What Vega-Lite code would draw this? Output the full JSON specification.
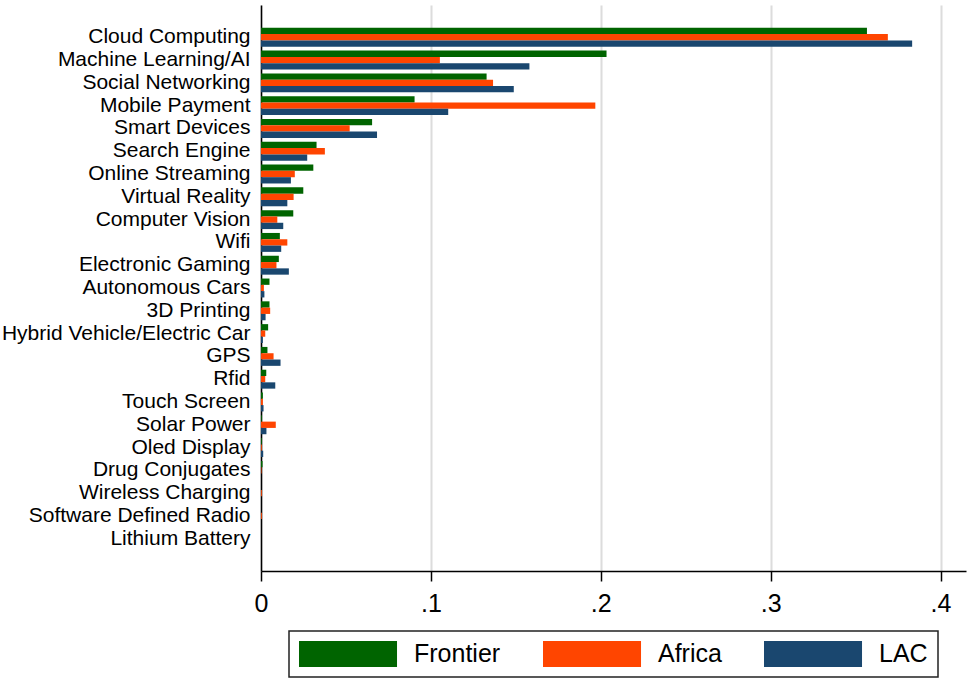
{
  "$schema": "https://vega.github.io/schema/vega-lite/v6.json",
  "width": 705,
  "height": 566,
  "autosize": {"type": "none"},
  "padding": {"left": 261, "top": 5, "right": 2, "bottom": 108},
  "background": "white",
  "config": {
    "font": "Liberation Sans",
    "view": {"stroke": null},
    "axis": {"labelColor": "black", "labelFont": "Liberation Sans"},
    "legend": {"labelFont": "Liberation Sans"}
  },
  "data": {
    "values": [
      {"tech": "Cloud Computing", "group": "Frontier", "value": 0.3567},
      {"tech": "Cloud Computing", "group": "Africa", "value": 0.369},
      {"tech": "Cloud Computing", "group": "LAC", "value": 0.3833},
      {"tech": "Machine Learning/AI", "group": "Frontier", "value": 0.2034},
      {"tech": "Machine Learning/AI", "group": "Africa", "value": 0.1053},
      {"tech": "Machine Learning/AI", "group": "LAC", "value": 0.158},
      {"tech": "Social Networking", "group": "Frontier", "value": 0.1328},
      {"tech": "Social Networking", "group": "Africa", "value": 0.1366},
      {"tech": "Social Networking", "group": "LAC", "value": 0.1488},
      {"tech": "Mobile Payment", "group": "Frontier", "value": 0.0904},
      {"tech": "Mobile Payment", "group": "Africa", "value": 0.1968},
      {"tech": "Mobile Payment", "group": "LAC", "value": 0.1102},
      {"tech": "Smart Devices", "group": "Frontier", "value": 0.0654},
      {"tech": "Smart Devices", "group": "Africa", "value": 0.0522},
      {"tech": "Smart Devices", "group": "LAC", "value": 0.0683},
      {"tech": "Search Engine", "group": "Frontier", "value": 0.0327},
      {"tech": "Search Engine", "group": "Africa", "value": 0.0376},
      {"tech": "Search Engine", "group": "LAC", "value": 0.0272},
      {"tech": "Online Streaming", "group": "Frontier", "value": 0.0308},
      {"tech": "Online Streaming", "group": "Africa", "value": 0.0199},
      {"tech": "Online Streaming", "group": "LAC", "value": 0.0176},
      {"tech": "Virtual Reality", "group": "Frontier", "value": 0.0249},
      {"tech": "Virtual Reality", "group": "Africa", "value": 0.0192},
      {"tech": "Virtual Reality", "group": "LAC", "value": 0.0155},
      {"tech": "Computer Vision", "group": "Frontier", "value": 0.019},
      {"tech": "Computer Vision", "group": "Africa", "value": 0.0096},
      {"tech": "Computer Vision", "group": "LAC", "value": 0.0131},
      {"tech": "Wifi", "group": "Frontier", "value": 0.0111},
      {"tech": "Wifi", "group": "Africa", "value": 0.0155},
      {"tech": "Wifi", "group": "LAC", "value": 0.0119},
      {"tech": "Electronic Gaming", "group": "Frontier", "value": 0.0105},
      {"tech": "Electronic Gaming", "group": "Africa", "value": 0.0091},
      {"tech": "Electronic Gaming", "group": "LAC", "value": 0.0164},
      {"tech": "Autonomous Cars", "group": "Frontier", "value": 0.005},
      {"tech": "Autonomous Cars", "group": "Africa", "value": 0.0017},
      {"tech": "Autonomous Cars", "group": "LAC", "value": 0.002},
      {"tech": "3D Printing", "group": "Frontier", "value": 0.005},
      {"tech": "3D Printing", "group": "Africa", "value": 0.0054},
      {"tech": "3D Printing", "group": "LAC", "value": 0.0027},
      {"tech": "Hybrid Vehicle/Electric Car", "group": "Frontier", "value": 0.0042},
      {"tech": "Hybrid Vehicle/Electric Car", "group": "Africa", "value": 0.0025},
      {"tech": "Hybrid Vehicle/Electric Car", "group": "LAC", "value": 0.0011},
      {"tech": "GPS", "group": "Frontier", "value": 0.0038},
      {"tech": "GPS", "group": "Africa", "value": 0.0074},
      {"tech": "GPS", "group": "LAC", "value": 0.0115},
      {"tech": "Rfid", "group": "Frontier", "value": 0.0031},
      {"tech": "Rfid", "group": "Africa", "value": 0.0025},
      {"tech": "Rfid", "group": "LAC", "value": 0.0084},
      {"tech": "Touch Screen", "group": "Frontier", "value": 0.0011},
      {"tech": "Touch Screen", "group": "Africa", "value": 0.0011},
      {"tech": "Touch Screen", "group": "LAC", "value": 0.0015},
      {"tech": "Solar Power", "group": "Frontier", "value": 0.0005},
      {"tech": "Solar Power", "group": "Africa", "value": 0.0087},
      {"tech": "Solar Power", "group": "LAC", "value": 0.0032},
      {"tech": "Oled Display", "group": "Frontier", "value": 0.0005},
      {"tech": "Oled Display", "group": "Africa", "value": 0.0005},
      {"tech": "Oled Display", "group": "LAC", "value": 0.0013},
      {"tech": "Drug Conjugates", "group": "Frontier", "value": 0.0009},
      {"tech": "Drug Conjugates", "group": "Africa", "value": 0.0003},
      {"tech": "Drug Conjugates", "group": "LAC", "value": 0},
      {"tech": "Wireless Charging", "group": "Frontier", "value": 0},
      {"tech": "Wireless Charging", "group": "Africa", "value": 0.0005},
      {"tech": "Wireless Charging", "group": "LAC", "value": 0},
      {"tech": "Software Defined Radio", "group": "Frontier", "value": 0},
      {"tech": "Software Defined Radio", "group": "Africa", "value": 0.0005},
      {"tech": "Software Defined Radio", "group": "LAC", "value": 0},
      {"tech": "Lithium Battery", "group": "Frontier", "value": 0},
      {"tech": "Lithium Battery", "group": "Africa", "value": 0},
      {"tech": "Lithium Battery", "group": "LAC", "value": 0}
    ]
  },
  "mark": {"type": "bar", "strokeWidth": 0},
  "encoding": {
    "y": {
      "field": "tech",
      "type": "nominal",
      "sort": null,
      "scale": {"paddingInner": 0.17, "paddingOuter": 1},
      "axis": {
        "title": null,
        "labelFontSize": 21,
        "labelPadding": 11,
        "ticks": false,
        "domainColor": "black",
        "domainWidth": 1.5,
        "labelLimit": 400
      }
    },
    "yOffset": {
      "field": "group",
      "type": "nominal",
      "sort": ["Frontier", "Africa", "LAC"],
      "scale": {"paddingInner": 0, "paddingOuter": 0}
    },
    "x": {
      "field": "value",
      "type": "quantitative",
      "scale": {"domain": [0, 0.415], "nice": false, "zero": true},
      "axis": {
        "title": null,
        "values": [0, 0.1, 0.2, 0.3, 0.4],
        "labelExpr": "datum.value == 0 ? '0' : substring(format(datum.value, '.1f'), 1)",
        "labelFontSize": 25,
        "labelPadding": 10,
        "tickSize": 10,
        "tickColor": "black",
        "tickWidth": 1.5,
        "domainColor": "black",
        "domainWidth": 1.5,
        "grid": true,
        "gridColor": "#dcdcdc",
        "gridWidth": 2,
        "labelFlush": false
      }
    },
    "color": {
      "field": "group",
      "type": "nominal",
      "sort": ["Frontier", "Africa", "LAC"],
      "scale": {"domain": ["Frontier", "Africa", "LAC"], "range": ["#006400", "#ff4500", "#1a476f"]},
      "legend": {
        "title": null,
        "orient": "none",
        "legendX": 28,
        "legendY": 626,
        "direction": "horizontal",
        "columns": 3,
        "symbolType": "M-1,-1H6.54V1H-1Z",
        "symbolSize": 676,
        "symbolStrokeWidth": 0,
        "symbolOpacity": 1,
        "labelFontSize": 25,
        "labelColor": "black",
        "labelOffset": 89,
        "columnPadding": 42,
        "padding": 10,
        "strokeColor": "#222222",
        "fillColor": "white",
        "encode": {"legend": {"update": {"strokeWidth": {"value": 1.5}}}}
      }
    }
  }
}
